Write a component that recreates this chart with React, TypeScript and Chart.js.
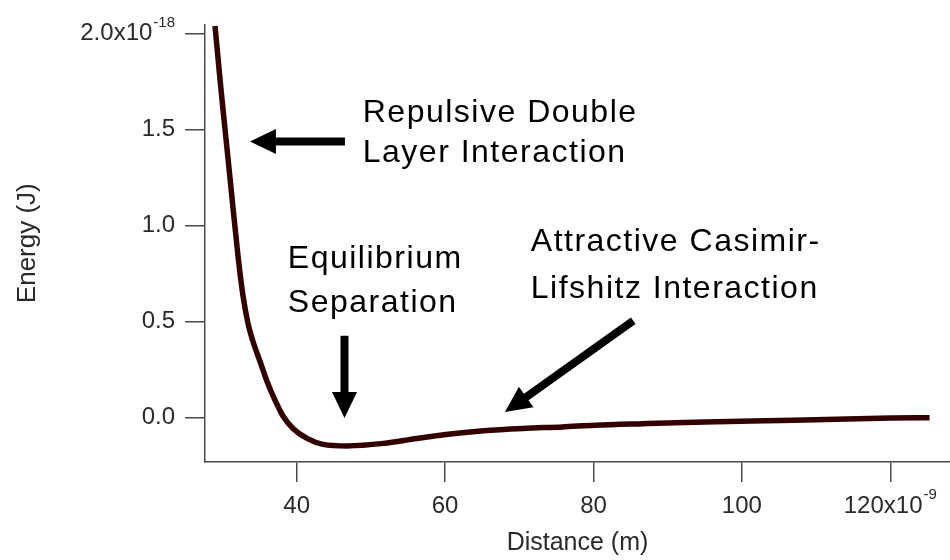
import React, { useEffect, useRef } from 'react';
import { Chart, registerables } from 'chart.js';

Chart.register(...registerables);

// Distance in units of 1e-9 m, energy in units of 1e-18 J
const distanceNm = [
  28.99, 29.66, 30.34, 31.21, 32.09, 32.76, 33.44, 34.11, 35.05, 35.99, 37.07,
  38.15, 39.5, 41.39, 43.55, 46.78, 51.7, 56.2, 60.7, 65.2, 70.5, 75.8,
  80.2, 86.6, 95.0, 107.0, 120.0, 125.3,
];
const energyE18 = [
  2.04, 1.762, 1.501, 1.171, 0.841, 0.634, 0.489, 0.395, 0.292, 0.188, 0.09,
  0.007, -0.058, -0.11, -0.141, -0.149, -0.136, -0.11, -0.087, -0.07, -0.058, -0.05,
  -0.041, -0.033, -0.024, -0.016, -0.004, -0.002,
];

const xTickValues = [40, 60, 80, 100, 120];
const xTickLabels = ['40', '60', '80', '100', '120x10'];
const yTickValues = [0, 0.5, 1.0, 1.5, 2.0];
const yTickLabels = ['0.0', '0.5', '1.0', '1.5', '2.0x10'];
const xExponentTick = 120;
const yExponentTick = 2.0;
const xExponent = '-9';
const yExponent = '-18';
const xRange = [27.64, 128.05];
const yRange = [-0.233, 2.048];
const xTitle = 'Distance (m)';
const yTitle = 'Energy (J)';

const noteTexts = ['Repulsive Double', 'Layer Interaction', 'Equilibrium', 'Separation', 'Attractive Casimir-', 'Lifshitz Interaction'];
const noteX = [48.9, 48.9, 38.8, 38.8, 71.55, 71.55];
const noteY = [1.541, 1.332, 0.777, 0.549, 0.865, 0.622];

const arrowFromX = [46.5, 46.44, 85.36];
const arrowFromY = [1.438, 0.425, 0.503];
const arrowToX = [33.7, 46.44, 68.07];
const arrowToY = [1.438, -0.004, 0.027];

const FONT = "'Liberation Sans', Arial, sans-serif";
const TICK_LEN = 20;
const TICK_PAD = 10;
const TICK_SIZE = 24;
const AXIS_COLOR = '#4a4a4a';
const TEXT_COLOR = '#2a2a2a';

const extrasPlugin = {
  id: 'extras',
  afterDraw(chart: any) {
    const ctx = chart.ctx as CanvasRenderingContext2D;
    const xs = chart.scales.x;
    const ys = chart.scales.y;
    ctx.save();

    ctx.fillStyle = TEXT_COLOR;
    {
      const py = ys.getPixelForValue(yExponentTick);
      const label = yTickLabels[yTickValues.indexOf(yExponentTick)];
      ctx.font = `${TICK_SIZE}px ${FONT}`;
      const w1 = ctx.measureText(label).width;
      ctx.font = `15px ${FONT}`;
      const w2 = ctx.measureText(yExponent).width;
      const right = ys.right - TICK_LEN - TICK_PAD;
      ctx.textAlign = 'left';
      ctx.font = `${TICK_SIZE}px ${FONT}`;
      ctx.textBaseline = 'middle';
      ctx.fillText(label, right - w1 - 1 - w2, py);
      ctx.font = `15px ${FONT}`;
      ctx.textBaseline = 'alphabetic';
      ctx.fillText(yExponent, right - w2, py - 7);
    }
    {
      const px = xs.getPixelForValue(xExponentTick);
      const label = xTickLabels[xTickValues.indexOf(xExponentTick)];
      const my = xs.top + TICK_LEN + TICK_PAD + (TICK_SIZE * 1.2) / 2;
      ctx.font = `${TICK_SIZE}px ${FONT}`;
      const w1 = ctx.measureText(label).width;
      ctx.font = `15px ${FONT}`;
      const w2 = ctx.measureText(xExponent).width;
      const start = px - (w1 + 1 + w2) / 2;
      ctx.textAlign = 'left';
      ctx.font = `${TICK_SIZE}px ${FONT}`;
      ctx.textBaseline = 'middle';
      ctx.fillText(label, start, my);
      ctx.font = `15px ${FONT}`;
      ctx.textBaseline = 'alphabetic';
      ctx.fillText(xExponent, start + w1 + 1, my - 7);
    }

    ctx.fillStyle = '#000';
    ctx.font = `32px ${FONT}`;
    (ctx as any).letterSpacing = '1.5px';
    ctx.textAlign = 'left';
    ctx.textBaseline = 'alphabetic';
    noteTexts.forEach((t, i) => {
      ctx.fillText(t, xs.getPixelForValue(noteX[i]), ys.getPixelForValue(noteY[i]));
    });
    (ctx as any).letterSpacing = '0px';

    ctx.strokeStyle = '#000';
    ctx.fillStyle = '#000';
    arrowFromX.forEach((_, i) => {
      const x1 = xs.getPixelForValue(arrowFromX[i]);
      const y1 = ys.getPixelForValue(arrowFromY[i]);
      const x2 = xs.getPixelForValue(arrowToX[i]);
      const y2 = ys.getPixelForValue(arrowToY[i]);
      const ang = Math.atan2(y2 - y1, x2 - x1);
      const headLen = 26;
      const headHalf = 12.5;
      const c = Math.cos(ang);
      const s = Math.sin(ang);
      const bx = x2 - headLen * c;
      const by = y2 - headLen * s;
      ctx.lineWidth = 8;
      ctx.lineCap = 'butt';
      ctx.beginPath();
      ctx.moveTo(x1, y1);
      ctx.lineTo(bx + 2 * c, by + 2 * s);
      ctx.stroke();
      ctx.beginPath();
      ctx.moveTo(x2, y2);
      ctx.lineTo(bx + headHalf * s, by - headHalf * c);
      ctx.lineTo(bx - headHalf * s, by + headHalf * c);
      ctx.closePath();
      ctx.fill();
    });
    ctx.restore();
  },
};

export default function App() {
  const canvasRef = useRef<HTMLCanvasElement | null>(null);

  useEffect(() => {
    document.body.style.margin = '0';
    const canvas = canvasRef.current;
    if (!canvas) return;
    const chart = new Chart(canvas, {
      type: 'line',
      data: {
        datasets: [
          {
            data: distanceNm.map((x, i) => ({ x, y: energyE18[i] })),
            borderColor: '#330000',
            borderWidth: 5.5,
            pointRadius: 0,
            fill: false,
            cubicInterpolationMode: 'monotone',
            borderCapStyle: 'butt',
            borderJoinStyle: 'round',
            clip: 8,
          } as any,
        ],
      },
      options: {
        responsive: false,
        animation: false,
        devicePixelRatio: 1,
        layout: { padding: { top: 22, right: 0, left: 0, bottom: 0 } },
        plugins: {
          legend: { display: false },
          tooltip: { enabled: false },
        },
        scales: {
          x: {
            type: 'linear',
            min: xRange[0],
            max: xRange[1],
            afterBuildTicks: (scale: any) => {
              scale.ticks = xTickValues.map((v) => ({ value: v }));
            },
            afterFit: (scale: any) => {
              scale.height = 98;
            },
            grid: {
              display: true,
              drawOnChartArea: false,
              drawTicks: true,
              tickLength: TICK_LEN,
              color: AXIS_COLOR,
              lineWidth: 1.5,
            },
            border: { display: true, color: AXIS_COLOR, width: 1.5 },
            ticks: {
              padding: TICK_PAD,
              color: TEXT_COLOR,
              font: { family: FONT, size: TICK_SIZE },
              maxRotation: 0,
              autoSkip: false,
              callback: (v: any) => {
                const i = xTickValues.indexOf(Number(v));
                if (Number(v) === xExponentTick) return '';
                return i >= 0 ? xTickLabels[i] : '';
              },
            },
            title: {
              display: true,
              text: xTitle,
              color: TEXT_COLOR,
              font: { family: FONT, size: 25 },
              padding: { top: 0, bottom: 2 },
            },
          },
          y: {
            type: 'linear',
            min: yRange[0],
            max: yRange[1],
            afterBuildTicks: (scale: any) => {
              scale.ticks = yTickValues.map((v) => ({ value: v }));
            },
            afterFit: (scale: any) => {
              scale.width = 205;
            },
            grid: {
              display: true,
              drawOnChartArea: false,
              drawTicks: true,
              tickLength: TICK_LEN,
              color: AXIS_COLOR,
              lineWidth: 1.5,
            },
            border: { display: true, color: AXIS_COLOR, width: 1.5 },
            ticks: {
              padding: TICK_PAD,
              color: TEXT_COLOR,
              font: { family: FONT, size: TICK_SIZE },
              autoSkip: false,
              callback: (v: any) => {
                const i = yTickValues.indexOf(Number(v));
                if (Number(v) === yExponentTick) return '';
                return i >= 0 ? yTickLabels[i] : '';
              },
            },
            title: {
              display: true,
              text: yTitle,
              color: TEXT_COLOR,
              font: { family: FONT, size: 26 },
              padding: { top: 12, bottom: 0 },
            },
          },
        },
      },
      plugins: [extrasPlugin],
    });
    return () => chart.destroy();
  }, []);

  return (
    <div style={{ width: 950, height: 560, background: '#fff' }}>
      <canvas ref={canvasRef} width={950} height={560} style={{ display: 'block' }} />
    </div>
  );
}
